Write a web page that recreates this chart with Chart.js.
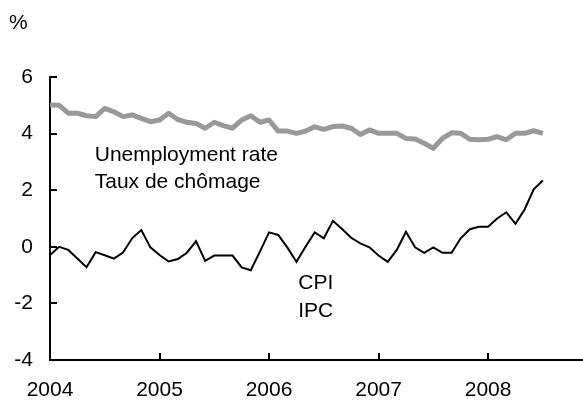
<!DOCTYPE html>
<html>
<head>
<meta charset="utf-8">
<script src="https://cdn.jsdelivr.net/npm/chart.js@4.4.1/dist/chart.umd.min.js"></script>
<style>
  html, body { margin: 0; padding: 0; background: #fff; }
  #wrap { width: 583px; height: 403px; position: relative; }
</style>
</head>
<body>
<div id="wrap"><canvas id="chart"></canvas></div>
<script>
// monthly series, Jan 2004 = month 0
const startYear = 2004;
const tickYears = [2004, 2005, 2006, 2007, 2008];
const yTicks = [-4, -2, 0, 2, 4, 6];

const unemployment = [5.01, 5.0, 4.72, 4.72, 4.63, 4.6, 4.89, 4.77, 4.6, 4.66, 4.54, 4.42,
  4.48, 4.72, 4.5, 4.4, 4.36, 4.19, 4.4, 4.28, 4.19, 4.48, 4.63, 4.4,
  4.48, 4.09, 4.09, 4.01, 4.09, 4.24, 4.15, 4.25, 4.27, 4.19, 3.97, 4.13,
  4.01, 4.01, 4.01, 3.83, 3.81, 3.66, 3.48, 3.83, 4.03, 4.01, 3.8, 3.78,
  3.8, 3.89, 3.78, 4.01, 4.01, 4.1, 4.01];

const cpi = [-0.29, 0.0, -0.11, -0.41, -0.72, -0.19, -0.3, -0.42, -0.2, 0.3, 0.59, -0.02,
  -0.29, -0.52, -0.43, -0.21, 0.2, -0.5, -0.31, -0.31, -0.31, -0.73, -0.83, -0.17,
  0.51, 0.42, -0.02, -0.53, 0.0, 0.51, 0.3, 0.92, 0.63, 0.32, 0.12, -0.02,
  -0.31, -0.53, -0.11, 0.53, -0.02, -0.21, -0.02, -0.21, -0.21, 0.3, 0.62, 0.71,
  0.71, 1.0, 1.22, 0.81, 1.32, 2.03, 2.34];

// series labels drawn inside the plot (x in months, y in %)
const notes = [
  { text: "Unemployment rate", x: 4.9, y: 3.24 },
  { text: "Taux de chômage", x: 4.9, y: 2.29 },
  { text: "CPI", x: 27.2, y: -1.28 },
  { text: "IPC", x: 27.2, y: -2.27 }
];

const FONT = "'Liberation Sans', Arial, sans-serif";
Chart.defaults.font.family = FONT;
Chart.defaults.font.size = 21;
Chart.defaults.color = "#000";

const toPoints = arr => arr.map((v, i) => ({ x: i, y: v }));

// inward tick marks, the "%" unit and the in-plot labels
const extras = {
  id: "extras",
  afterDraw(chart) {
    const { ctx, chartArea, scales } = chart;
    const xs = scales.x, ys = scales.y;
    ctx.save();
    ctx.strokeStyle = "#000";
    ctx.lineWidth = 2;
    ctx.beginPath();
    yTicks.forEach(v => {
      const py = Math.round(ys.getPixelForValue(v));
      ctx.moveTo(chartArea.left, py);
      ctx.lineTo(chartArea.left + 7, py);
    });
    tickYears.forEach(yr => {
      const px = Math.round(xs.getPixelForValue((yr - startYear) * 12));
      ctx.moveTo(px, chartArea.bottom);
      ctx.lineTo(px, chartArea.bottom - 7);
    });
    ctx.stroke();

    ctx.fillStyle = "#000";
    ctx.font = "21px " + FONT;
    ctx.textBaseline = "middle";
    ctx.textAlign = "left";
    ctx.fillText("%", 9, 23);
    notes.forEach(n => {
      ctx.fillText(n.text, xs.getPixelForValue(n.x), ys.getPixelForValue(n.y));
    });
    ctx.restore();
  }
};

new Chart(document.getElementById("chart"), {
  type: "line",
  data: {
    datasets: [
      {
        label: "Unemployment rate",
        data: toPoints(unemployment),
        borderColor: "#999999",
        borderWidth: 5,
        pointRadius: 0,
        tension: 0,
        borderJoinStyle: "round"
      },
      {
        label: "CPI",
        data: toPoints(cpi),
        borderColor: "#000000",
        borderWidth: 2,
        pointRadius: 0,
        tension: 0
      }
    ]
  },
  options: {
    responsive: true,
    maintainAspectRatio: false,
    animation: false,
    layout: { padding: { top: 77, right: 0, left: 0, bottom: 0 } },
    plugins: {
      legend: { display: false },
      tooltip: { enabled: false }
    },
    scales: {
      x: {
        type: "linear",
        min: 0,
        max: 58.4,
        grid: { display: false, drawTicks: false },
        border: { display: true, color: "#000", width: 2 },
        ticks: {
          stepSize: 12,
          includeBounds: false,
          autoSkip: false,
          maxRotation: 0,
          padding: 18,
          callback: v => (v % 12 === 0 ? String(startYear + v / 12) : "")
        },
        afterFit: s => { s.height = 43; }
      },
      y: {
        min: -4,
        max: 6,
        grid: { display: false, drawTicks: false },
        border: { display: true, color: "#000", width: 2 },
        ticks: { stepSize: 2, padding: 17 },
        afterFit: s => { s.width = 50; }
      }
    }
  },
  plugins: [extras]
});
</script>
</body>
</html>
